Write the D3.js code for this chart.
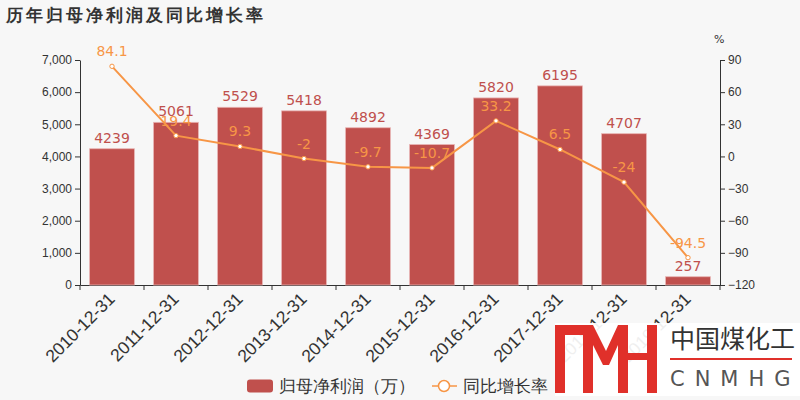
<!DOCTYPE html>
<html>
<head>
<meta charset="utf-8">
<script src="https://cdn.jsdelivr.net/npm/d3@7"></script>
<style>
  body{margin:0;background:#f7f7f7;}
  svg{display:block;font-family:"DejaVu Sans",sans-serif;}
</style>
</head>
<body>
<div id="chart"></div>
<script>
// data
const years=["2010-12-31","2011-12-31","2012-12-31","2013-12-31","2014-12-31","2015-12-31","2016-12-31","2017-12-31","2018-12-31","2019-12-31"];
const profit=[4239,5061,5529,5418,4892,4369,5820,6195,4707,257];
const growth=[84.1,19.4,9.3,-2,-9.7,-10.7,33.2,6.5,-24,-94.5];
const leftTicks=[0,1000,2000,3000,4000,5000,6000,7000];
const rightTicks=[-120,-90,-60,-30,0,30,60,90];

const barColor="#c0504d", lineColor="#f79646", textColor="#333";
const W=800,H=400;
const margin={top:60,right:80,bottom:115,left:80};
const w=W-margin.left-margin.right, h=H-margin.top-margin.bottom;

const svg=d3.select("#chart").append("svg").attr("width",W).attr("height",H);
svg.append("rect").attr("width",W).attr("height",H).attr("fill","#f7f7f7");

svg.append("text").attr("x",6).attr("y",21).attr("font-size",17).attr("font-weight","bold")
   .attr("fill",textColor).attr("letter-spacing",3).text("历年归母净利润及同比增长率");

const g=svg.append("g").attr("transform","translate("+margin.left+","+margin.top+")");

let x=d3.scaleBand().domain(years).range([0,w]).paddingInner(0.3).paddingOuter(0.15);
let yL=d3.scaleLinear().domain([0,7000]).range([h,0]);
let yR=d3.scaleLinear().domain([-120,90]).range([h,0]);

// axes
let xAxis=g.append("g").attr("transform","translate(0,"+h+")")
   .call(d3.axisBottom(x).tickSize(5).tickSizeOuter(0));
// ticks at band boundaries like the reference
xAxis.selectAll(".tick line").attr("transform","translate("+(-x.step()/2)+",0)");
xAxis.append("line").attr("x1",w).attr("x2",w).attr("y1",0).attr("y2",5).attr("stroke",textColor);
xAxis.selectAll(".tick text")
   .attr("font-size",17.5).attr("fill",textColor)
   .attr("text-anchor","end").attr("x",0).attr("y",0).attr("dy",0)
   .attr("transform","translate(4,15) rotate(-45)");

let yAxisL=g.append("g").call(d3.axisLeft(yL).tickValues(leftTicks).tickFormat(d3.format(",")).tickSize(5).tickSizeOuter(0));
yAxisL.selectAll(".tick text").attr("font-size",12).attr("fill",textColor);
let yAxisR=g.append("g").attr("transform","translate("+w+",0)")
   .call(d3.axisRight(yR).tickValues(rightTicks).tickSize(5).tickSizeOuter(0));
yAxisR.selectAll(".tick text").attr("font-size",12).attr("fill",textColor);
g.selectAll(".domain").attr("stroke",textColor);
g.selectAll(".tick line").attr("stroke",textColor);
g.append("text").attr("x",w-6).attr("y",-17).attr("font-size",11).attr("fill",textColor).text("%");

// bars
g.selectAll(".bar").data(profit).enter().append("rect")
   .attr("x",(d,i)=>x(years[i])).attr("width",x.bandwidth())
   .attr("y",d=>yL(d)).attr("height",d=>h-yL(d))
   .attr("fill",barColor).attr("stroke","#e8b4b3").attr("stroke-width",0.8);
g.selectAll(".barLabel").data(profit).enter().append("text")
   .attr("x",(d,i)=>x(years[i])+x.bandwidth()/2).attr("y",d=>yL(d)-6)
   .attr("text-anchor","middle").attr("font-size",14).attr("fill",barColor).text(d=>d);

// line
let cx=i=>x(years[i])+x.bandwidth()/2;
g.append("path").datum(growth).attr("fill","none").attr("stroke",lineColor).attr("stroke-width",2)
   .attr("d",d3.line().x((d,i)=>cx(i)).y(d=>yR(d)));
g.selectAll(".dot").data(growth).enter().append("circle")
   .attr("cx",(d,i)=>cx(i)).attr("cy",d=>yR(d)).attr("r",2.2)
   .attr("fill","#fff").attr("stroke",lineColor).attr("stroke-width",1);
g.selectAll(".lineLabel").data(growth).enter().append("text")
   .attr("x",(d,i)=>cx(i)).attr("y",d=>yR(d)-10)
   .attr("text-anchor","middle").attr("font-size",14).attr("fill",lineColor).text(d=>d);

// legend
let lg=svg.append("g").attr("transform","translate(0,386)");
lg.append("rect").attr("x",247).attr("y",-6.5).attr("width",26).attr("height",13).attr("rx",3).attr("fill",barColor);
lg.append("text").attr("x",279).attr("y",6).attr("font-size",17).attr("fill",textColor).text("归母净利润（万）");
lg.append("line").attr("x1",432).attr("x2",457).attr("y1",0).attr("y2",0).attr("stroke",lineColor).attr("stroke-width",1.5);
lg.append("circle").attr("cx",444).attr("cy",0).attr("r",5.5).attr("fill","#fff").attr("stroke",lineColor).attr("stroke-width",1.5);
lg.append("text").attr("x",463).attr("y",6).attr("font-size",16.5).attr("fill",textColor).text("同比增长率");

// watermark logo
let wm=svg.append("g").attr("transform","translate(555,323)");
wm.append("rect").attr("width",245).attr("height",73).attr("fill","#fff").attr("opacity",0.92);
let red="#e0302a";
wm.append("path").attr("fill",red).attr("d",
  "M0,2 H38 L51,28 L63,2 H73 V70 H63 V22 L54,42 H48 L38,22 V70 H28 V12 H10 V70 H0 Z");
wm.append("rect").attr("x",92).attr("y",2).attr("width",10).attr("height",68).attr("fill",red);
wm.append("rect").attr("x",73).attr("y",30).attr("width",19).attr("height",7).attr("fill",red);
wm.append("text").attr("x",115).attr("y",25).attr("font-size",25).attr("fill","#333")
   .attr("font-family","'Noto Sans CJK SC',sans-serif").text("中国煤化工");
wm.append("rect").attr("x",115).attr("y",35).attr("width",122).attr("height",2).attr("fill",red);
wm.append("text").attr("x",115).attr("y",63).attr("font-size",21).attr("fill","#555")
   .attr("letter-spacing",10).text("CNMHG");
</script>
</body>
</html>
